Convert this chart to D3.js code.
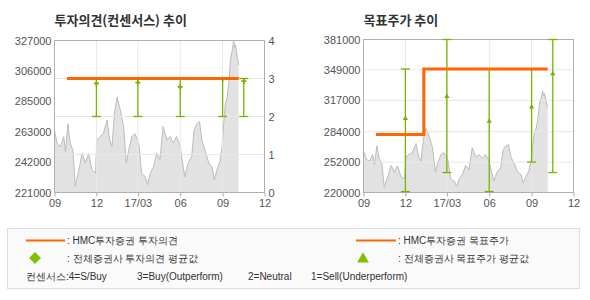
<!DOCTYPE html>
<html>
<head>
<meta charset="utf-8">
<script src="https://cdn.jsdelivr.net/npm/d3@7"></script>
<style>
  body { margin: 0; background: #fff; }
  text { font-family: "Liberation Sans", Arial, sans-serif; }
  .kr { font-family: "Noto Sans CJK KR", sans-serif; }
  .tick text { fill: #555; font-size: 11px; }
</style>
</head>
<body>
<div id="chart"></div>
<script>
// 주가 (일부 샘플)
const priceDates = ['2016-09-01','2016-09-07','2016-09-14','2016-09-21','2016-09-25','2016-09-30','2016-10-05','2016-10-11','2016-10-16','2016-10-24','2016-10-31','2016-11-07','2016-11-14','2016-11-21','2016-11-29','2016-12-02','2016-12-09','2016-12-16','2016-12-24','2016-12-30','2017-01-04','2017-01-09','2017-01-15','2017-01-22','2017-01-29','2017-02-04','2017-02-09','2017-02-16','2017-02-23','2017-02-28','2017-03-04','2017-03-09','2017-03-17','2017-03-22','2017-03-28','2017-04-04','2017-04-11','2017-04-18','2017-04-25','2017-05-03','2017-05-10','2017-05-17','2017-05-24','2017-06-01','2017-06-04','2017-06-11','2017-06-18','2017-06-26','2017-07-01','2017-07-07','2017-07-13','2017-07-18','2017-07-25','2017-08-02','2017-08-09','2017-08-14','2017-08-20','2017-08-26','2017-08-31','2017-09-04','2017-09-07','2017-09-11','2017-09-15','2017-09-18','2017-09-22','2017-09-25','2017-09-27','2017-09-29','2017-10-03','2017-10-06'];
const priceValues = [264000,255000,253000,260000,249500,269000,255500,250500,225500,237000,248500,241500,248000,237000,234500,257500,260000,262000,271500,257500,253000,276000,287500,278500,267000,241500,250500,260000,262000,257500,253000,234500,232000,226500,234500,239000,248500,244000,267000,257500,260000,255500,260000,253000,246000,232000,241500,246000,264500,269000,270500,257500,250500,241500,239000,230000,237000,242500,253000,271500,283000,287500,299000,313000,320000,327000,322000,324000,315000,310000];

// HMC투자증권 투자의견 / 목표주가
const hmcOpinionDates = ['2016-09-28','2017-10-06'];
const hmcOpinionValues = [3, 3];
const hmcTargetDates = ['2016-09-28','2017-01-10','2017-10-06'];
const hmcTargetValues = [281000, 350000, 350000];

// 전체증권사 컨센서스
const consDates = ['2016-12-01','2017-03-01','2017-06-01','2017-09-01','2017-10-17'];
const opinionAvg = [2.87, 2.89, 2.78, 2.98, 2.93];
const opinionMin = [2, 2, 2, 2, 2];
const opinionMax = [3, 3, 3, 3, 3];
const targetAvg = [298000, 321000, 295000, 310000, 345000];
const targetMin = [221000, 241000, 221000, 252000, 241000];
const targetMax = [350000, 381000, 350000, 350000, 381000];

// 축
const xTickDates = ['2016-09-01','2016-12-01','2017-03-01','2017-06-01','2017-09-01','2017-12-01'];
const xTickLabels = ['09','12','17/03','06','09','12'];
const leftPriceTicks = [221000, 242000, 263000, 285000, 306000, 327000];
const opinionTicks = [0, 1, 2, 3, 4];
const rightPriceTicks = [220000, 252000, 284000, 317000, 349000, 381000];

const width = 590;
const height = 300;
const parse = d3.timeParse('%Y-%m-%d');
const orange = '#ff6600';
const green = '#76b400';

const svg = d3.select('div#chart').append('svg').attr('width', width).attr('height', height);

const price = priceDates.map((d, i) => ({ date: parse(d), value: priceValues[i] }));
const cons = consDates.map((d, i) => ({
    date: parse(d),
    oAvg: opinionAvg[i], oMin: opinionMin[i], oMax: opinionMax[i],
    tAvg: targetAvg[i], tMin: targetMin[i], tMax: targetMax[i]
}));
const xTicks = xTickDates.map(parse);

function drawPanel(box, title, yPrice, priceTicks) {
    const g = svg.append('g');
    const x = d3.scaleTime().domain([xTicks[0], xTicks[xTicks.length - 1]]).range([box.x0, box.x1]);

    g.append('text').attr('class', 'kr').attr('x', box.x0).attr('y', 25)
        .attr('font-size', 13).attr('font-weight', 'bold').attr('fill', '#333').text(title);

    // 주가 영역
    g.append('path').datum(price)
        .attr('fill', '#e2e2e2')
        .attr('d', d3.area().x(d => x(d.date)).y0(box.y1).y1(d => yPrice(d.value)));
    g.append('path').datum(price)
        .attr('fill', 'none').attr('stroke', '#bcbcbc').attr('stroke-width', 1)
        .attr('d', d3.line().x(d => x(d.date)).y(d => yPrice(d.value)));

    // 세로 그리드
    g.selectAll('.vgrid').data(xTicks.slice(1, -1)).enter().append('line')
        .attr('x1', d => x(d)).attr('x2', d => x(d))
        .attr('y1', box.y0).attr('y2', box.y1)
        .attr('stroke', '#e8e8e8');

    // x축
    const xAxis = d3.axisBottom(x).tickValues(xTicks)
        .tickFormat((d, i) => xTickLabels[i]).tickSize(4).tickPadding(3);
    const xg = g.append('g').attr('transform', `translate(0,${box.y1})`).call(xAxis);
    xg.select('.domain').remove();
    xg.selectAll('.tick line').attr('stroke', '#aaa');

    // 왼쪽 y축
    const yAxis = d3.axisLeft(yPrice).tickValues(priceTicks).tickFormat(d3.format('d')).tickSize(0).tickPadding(3);
    const yg = g.append('g').attr('transform', `translate(${box.x0},0)`).call(yAxis);
    yg.select('.domain').remove();

    return { g, x };
}

function frame(g, box) {
    g.append('rect').attr('x', box.x0).attr('y', box.y0)
        .attr('width', box.x1 - box.x0).attr('height', box.y1 - box.y0)
        .attr('fill', 'none').attr('stroke', '#b0b0b0');
}

// ---------- 왼쪽: 투자의견 ----------
const boxL = { x0: 54.5, x1: 264.5, y0: 40.5, y1: 192.5 };
const yPriceL = d3.scaleLinear().domain([221000, 327000]).range([boxL.y1, boxL.y0]);
const yOpinion = d3.scaleLinear().domain([0, 4]).range([boxL.y1, boxL.y0]);
const left = drawPanel(boxL, '투자의견(컨센서스) 추이', yPriceL, leftPriceTicks);

left.g.selectAll('.hgrid').data([1, 2, 3]).enter().append('line')
    .attr('x1', boxL.x0).attr('x2', boxL.x1)
    .attr('y1', d => yOpinion(d)).attr('y2', d => yOpinion(d))
    .attr('stroke', '#e8e8e8');

const yAxisR = d3.axisRight(yOpinion).tickValues(opinionTicks).tickFormat(d3.format('d')).tickSize(0).tickPadding(4);
const yrg = left.g.append('g').attr('transform', `translate(${boxL.x1},0)`).call(yAxisR);
yrg.select('.domain').remove();
frame(left.g, boxL);

function errorBars(g, x, y, keyMin, keyMax, keyAvg, symbol, size) {
    const bars = g.selectAll(null).data(cons).enter().append('g').attr('stroke', green).attr('stroke-width', 1.3);
    bars.append('line').attr('x1', d => x(d.date)).attr('x2', d => x(d.date))
        .attr('y1', d => y(d[keyMin])).attr('y2', d => y(d[keyMax]));
    bars.append('line').attr('x1', d => x(d.date) - 4.5).attr('x2', d => x(d.date) + 4.5)
        .attr('y1', d => y(d[keyMin])).attr('y2', d => y(d[keyMin]));
    bars.append('line').attr('x1', d => x(d.date) - 4.5).attr('x2', d => x(d.date) + 4.5)
        .attr('y1', d => y(d[keyMax])).attr('y2', d => y(d[keyMax]));
    g.selectAll(null).data(cons).enter().append('path')
        .attr('transform', d => `translate(${x(d.date)},${y(d[keyAvg])})`)
        .attr('d', d3.symbol(symbol).size(size)())
        .attr('fill', green);
}

errorBars(left.g, left.x, yOpinion, 'oMin', 'oMax', 'oAvg', d3.symbolCross, 14);

const hmcOpinion = hmcOpinionDates.map((d, i) => ({ date: parse(d), value: hmcOpinionValues[i] }));
left.g.append('path').datum(hmcOpinion)
    .attr('fill', 'none').attr('stroke', orange).attr('stroke-width', 3)
    .attr('d', d3.line().x(d => left.x(d.date)).y(d => yOpinion(d.value)));

// ---------- 오른쪽: 목표주가 ----------
const boxR = { x0: 363.5, x1: 573.5, y0: 39.5, y1: 192.5 };
const yPriceR = d3.scaleLinear().domain([220000, 381000]).range([boxR.y1, boxR.y0]);
const right = drawPanel(boxR, '목표주가 추이', yPriceR, rightPriceTicks);

right.g.selectAll('.hgrid').data(rightPriceTicks.slice(1, -1)).enter().append('line')
    .attr('x1', boxR.x0).attr('x2', boxR.x1)
    .attr('y1', d => yPriceR(d)).attr('y2', d => yPriceR(d))
    .attr('stroke', '#e8e8e8');
frame(right.g, boxR);

errorBars(right.g, right.x, yPriceR, 'tMin', 'tMax', 'tAvg', d3.symbolTriangle, 12);

const hmcTarget = hmcTargetDates.map((d, i) => ({ date: parse(d), value: hmcTargetValues[i] }));
right.g.append('path').datum(hmcTarget)
    .attr('fill', 'none').attr('stroke', orange).attr('stroke-width', 3)
    .attr('d', d3.line().curve(d3.curveStepAfter).x(d => right.x(d.date)).y(d => yPriceR(d.value)));

// ---------- 범례 ----------
const legend = svg.append('g').attr('class', 'kr').attr('font-size', 10).attr('fill', '#333');
legend.append('rect').attr('x', 7.5).attr('y', 228.5).attr('width', 572).attr('height', 60)
    .attr('fill', '#fafafa').attr('stroke', '#dddddd');

legend.append('line').attr('x1', 26).attr('x2', 65).attr('y1', 240.5).attr('y2', 240.5)
    .attr('stroke', orange).attr('stroke-width', 2);
legend.append('text').attr('x', 67).attr('y', 244).text(': HMC투자증권 투자의견');

legend.append('path').attr('transform', 'translate(35,258) rotate(45)')
    .attr('d', d3.symbol(d3.symbolSquare).size(70)()).attr('fill', '#80c000');
legend.append('text').attr('x', 67).attr('y', 262).text(': 전체증권사 투자의견 평균값');

legend.append('line').attr('x1', 356).attr('x2', 396).attr('y1', 240.5).attr('y2', 240.5)
    .attr('stroke', orange).attr('stroke-width', 2);
legend.append('text').attr('x', 398).attr('y', 244).text(': HMC투자증권 목표주가');

legend.append('path').attr('transform', 'translate(363,259)')
    .attr('d', d3.symbol(d3.symbolTriangle).size(60)()).attr('fill', '#80c000');
legend.append('text').attr('x', 398).attr('y', 262).text(': 전체증권사 목표주가 평균값');

const consNote = [['컨센서스:4=S/Buy', 26], ['3=Buy(Outperform)', 137], ['2=Neutral', 248], ['1=Sell(Underperform)', 311]];
legend.selectAll(null).data(consNote).enter().append('text')
    .attr('x', d => d[1]).attr('y', 280).text(d => d[0]);
</script>
</body>
</html>
